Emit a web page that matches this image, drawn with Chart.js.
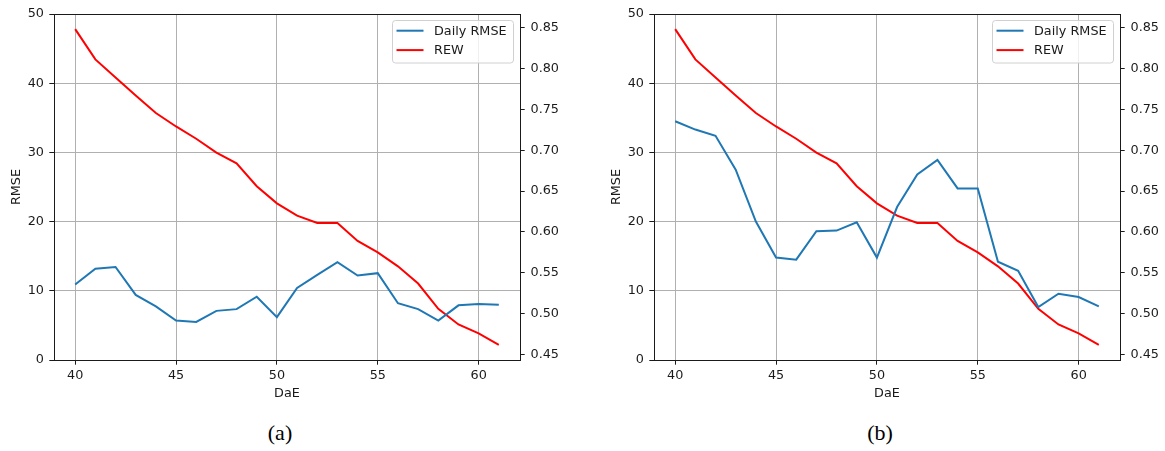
<!DOCTYPE html>
<html><head><meta charset="utf-8">
<script src="https://cdn.jsdelivr.net/npm/chart.js@4"></script>
<style>
html,body{margin:0;padding:0;background:#fff;}
#wrap{position:relative;width:1165px;height:451px;overflow:hidden;background:#fff;}
canvas{position:absolute;top:0;}
.cap{position:absolute;top:421px;font-family:"Liberation Serif","DejaVu Serif",serif;font-size:22px;color:#000;transform:translateX(-50%);line-height:24px;}
</style></head><body>
<div id="wrap">
<canvas id="ca" width="580" height="410" style="left:0px"></canvas>
<canvas id="cb" width="565" height="410" style="left:600px"></canvas>
<div class="cap" style="left:280px">(a)</div>
<div class="cap" style="left:880px">(b)</div>
</div>
<script>
const dae = [40,41,42,43,44,45,46,47,48,49,50,51,52,53,54,55,56,57,58,59,60,61];
const rew = [0.848,0.811,0.789,0.767,0.7455,0.729,0.714,0.697,0.684,0.656,0.635,0.620,0.611,0.611,0.589,0.575,0.558,0.537,0.506,0.487,0.476,0.462];
const rmseA = [10.9,13.2,13.45,9.4,7.75,5.7,5.5,7.1,7.35,9.15,6.2,10.4,12.3,14.15,12.2,12.55,8.2,7.35,5.7,7.9,8.1,8.0];
const rmseB = [34.5,33.3,32.4,27.5,20.0,14.8,14.5,18.6,18.7,19.9,14.8,22.1,26.8,28.9,24.8,24.8,14.2,12.9,7.65,9.57,9.1,7.75];
const xTicks = [40,45,50,55,60];
const yTicks = [0,10,20,30,40,50];
const y2Ticks = [0.45,0.50,0.55,0.60,0.65,0.70,0.75,0.80,0.85];
const seriesNames = ['Daily RMSE','REW'];
const captions = ['(a)','(b)'];

const FONT = {family:'"DejaVu Sans", sans-serif', size:12.8};
const TXT = '#1a1a1a';
const SPINE = '#1a1a1a';

const framePlugin = {
  id:'frame',
  afterDatasetsDraw(chart){
    const {ctx, chartArea:a} = chart;
    ctx.save();
    ctx.strokeStyle = SPINE; ctx.lineWidth = 1;
    ctx.strokeRect(Math.round(a.left)+0.5, Math.round(a.top)+0.5, Math.round(a.right-a.left), Math.round(a.bottom-a.top));
    ctx.restore();
  }
};
const legendPlugin = {
  id:'mplLegend',
  afterDraw(chart){
    const {ctx, chartArea:a} = chart;
    const w = 121, h = 42.5;
    const x = a.right - 7 - w, y = a.top + 6;
    ctx.save();
    ctx.beginPath();
    if (ctx.roundRect) ctx.roundRect(x+0.5, y+0.5, w, h, 3); else ctx.rect(x+0.5,y+0.5,w,h);
    ctx.fillStyle = 'rgba(255,255,255,0.8)';
    ctx.fill();
    ctx.strokeStyle = '#d0d0d0'; ctx.lineWidth = 1; ctx.stroke();
    chart.data.datasets.forEach((ds,i)=>{
      const cy = y + 10.7 + i*19.4;
      ctx.beginPath();
      ctx.strokeStyle = ds.borderColor; ctx.lineWidth = 2;
      ctx.moveTo(x+4.5, cy); ctx.lineTo(x+31.5, cy); ctx.stroke();
      ctx.fillStyle = TXT;
      ctx.font = '12.8px "DejaVu Sans", sans-serif';
      ctx.textBaseline = 'middle'; ctx.textAlign = 'left';
      ctx.fillText(ds.label, x+42, cy+0.5);
    });
    ctx.restore();
  }
};

function makeChart(id, rmse, rightW){
  return new Chart(document.getElementById(id), {
    type:'line',
    data:{
      datasets:[
        {label:seriesNames[0], data:dae.map((d,i)=>({x:d,y:rmse[i]})), borderColor:'#1f77b4', borderWidth:2, pointRadius:0, yAxisID:'y', tension:0},
        {label:seriesNames[1], data:dae.map((d,i)=>({x:d,y:rew[i]})), borderColor:'#ff0000', borderWidth:2, pointRadius:0, yAxisID:'y2', tension:0}
      ]
    },
    options:{
      responsive:false, animation:false,
      layout:{padding:{top:14,left:0,right:0,bottom:0}},
      plugins:{legend:{display:false}, tooltip:{enabled:false}},
      scales:{
        x:{type:'linear', min:38.95, max:62.05,
          afterBuildTicks(s){ s.ticks = xTicks.map(v=>({value:v})); },
          afterFit(s){ s.height = 410-360; },
          grid:{color:'#b0b0b0', lineWidth:1, tickLength:4.7, tickColor:SPINE},
          border:{display:false},
          ticks:{font:FONT, color:TXT, padding:3.5, maxRotation:0, autoSkip:false, callback:v=>String(v)},
          title:{display:true, text:'DaE', font:FONT, color:TXT, padding:{top:0,bottom:9}}
        },
        y:{type:'linear', position:'left', min:0, max:50,
          afterBuildTicks(s){ s.ticks = yTicks.map(v=>({value:v})); },
          afterFit(s){ s.width = 54; },
          grid:{color:'#b0b0b0', lineWidth:1, tickLength:4.7, tickColor:SPINE},
          border:{display:false},
          ticks:{font:FONT, color:TXT, padding:5.3, callback:v=>String(v)},
          title:{display:true, text:'RMSE', font:FONT, color:TXT, padding:{top:8.5,bottom:0}}
        },
        y2:{type:'linear', position:'right', min:0.4435, max:0.8665,
          afterBuildTicks(s){ s.ticks = y2Ticks.map(v=>({value:v})); },
          afterFit(s){ s.width = rightW; },
          grid:{drawOnChartArea:false, tickLength:4.7, tickColor:SPINE, color:SPINE},
          border:{display:false},
          ticks:{font:FONT, color:TXT, padding:5.8, callback:v=>v.toFixed(2)}
        }
      }
    },
    plugins:[framePlugin, legendPlugin]
  });
}
makeChart('ca', rmseA, 60);
makeChart('cb', rmseB, 45);
</script>
</body></html>
